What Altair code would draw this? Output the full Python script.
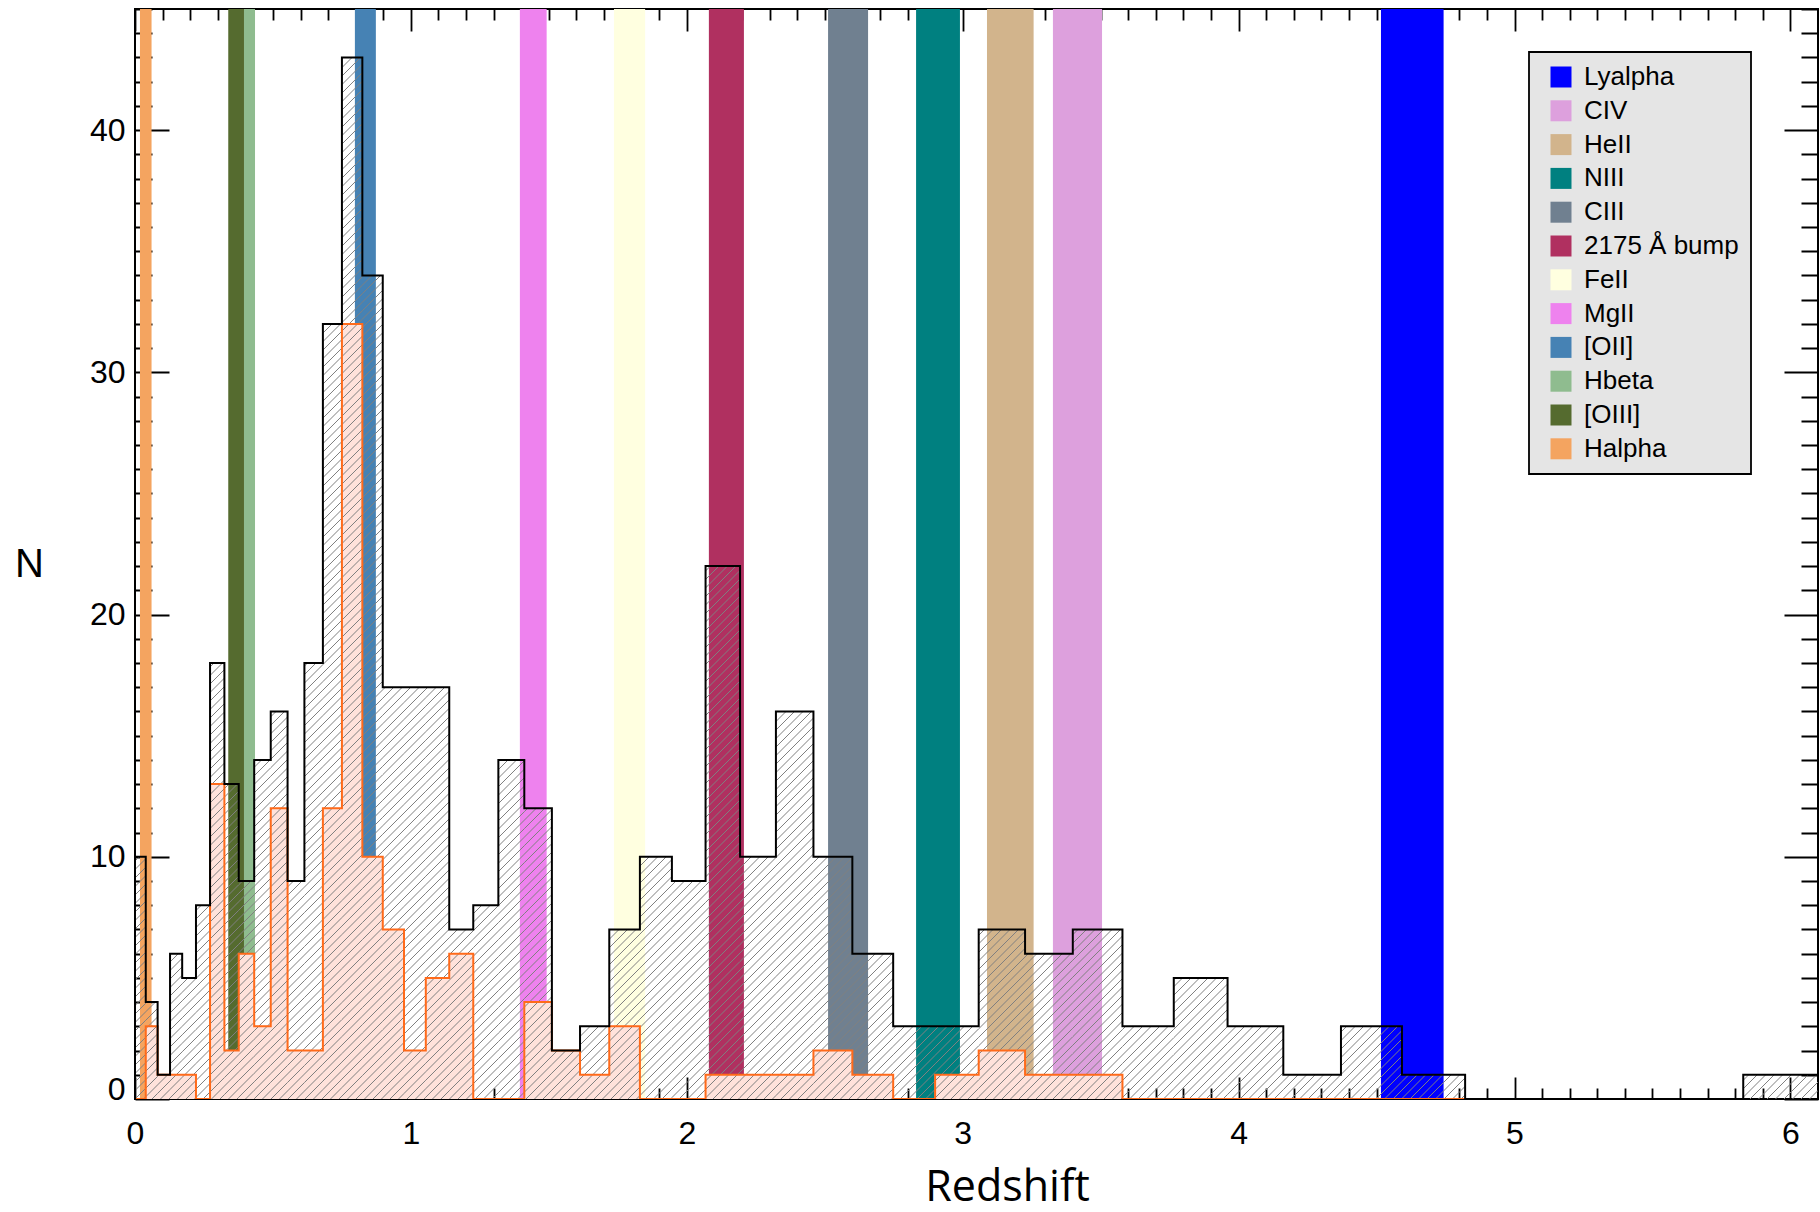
import altair as alt
import pandas as pd
import numpy as np

# ---------------- data ----------------
# redshift bin edges
edges = [0.0, 0.039, 0.082, 0.127, 0.171, 0.221, 0.272, 0.324, 0.376, 0.432,
         0.492, 0.553, 0.614, 0.681, 0.750, 0.824, 0.898, 0.975, 1.054, 1.139,
         1.226, 1.317, 1.411, 1.511, 1.613, 1.719, 1.830, 1.946, 2.068, 2.193,
         2.323, 2.459, 2.600, 2.748, 2.900, 3.058, 3.226, 3.399, 3.579, 3.765,
         3.960, 4.162, 4.371, 4.592, 4.821, 5.829, 6.108]
# full sample (black, hatched)
n_all = [10, 4, 1, 6, 5, 8, 18, 13, 9, 14,
         16, 9, 18, 32, 43, 34, 17, 17, 17, 7,
         8, 14, 12, 2, 3, 7, 10, 9, 22, 10,
         16, 10, 6, 3, 3, 7, 6, 7, 3, 5,
         3, 1, 3, 1, 0, 1]
# sub-sample (orange, pink filled)
n_sub = [0, 3, 1, 1, 1, 0, 13, 2, 6, 3,
         12, 2, 2, 12, 32, 10, 7, 2, 5, 6,
         0, 0, 4, 2, 1, 3, 0, 0, 1, 1,
         1, 2, 1, 0, 1, 2, 1, 1, 0, 0,
         0, 0, 0, 0, 0, 0]

line_names = ["Lyalpha", "CIV", "HeII", "NIII", "CIII", "2175 Å bump",
              "FeII", "MgII", "[OII]", "Hbeta", "[OIII]", "Halpha"]
line_lo = [4.516, 3.327, 3.088, 2.831, 2.512, 2.080, 1.736, 1.395, 0.797, 0.395, 0.338, 0.018]
line_hi = [4.743, 3.505, 3.257, 2.990, 2.657, 2.207, 1.849, 1.492, 0.873, 0.435, 0.395, 0.060]
line_colors = ["#0000FF", "#DDA0DD", "#D2B48C", "#008080", "#708090", "#B03060",
               "#FFFFE0", "#EE82EE", "#4682B4", "#8FBC8F", "#556B2F", "#F4A460"]

x_ticks = [round(i * 0.1, 1) for i in range(0, 61)]
y_ticks = list(range(0, 46))

# ---------------- layout ----------------
X_MAX = 6.1
Y_MAX = 45
W = 1683
H = 1090

xs = alt.Scale(domain=[0, X_MAX], nice=False, zero=False)
ys = alt.Scale(domain=[0, Y_MAX], nice=False, zero=False)

x_axis = alt.Axis(
    values=x_ticks, grid=True, ticks=False, tickSize=0, domain=False,
    gridColor="black", gridWidth=1.8, gridOpacity=1,
    gridDash={"condition": {"test": "abs(datum.value - round(datum.value)) < 0.001",
                            "value": [22, H - 44]},
              "value": [11, H - 22]},
    labelExpr="abs(datum.value - round(datum.value)) < 0.001 ? format(datum.value, 'd') : ''",
    labelOverlap=False, labelFlush=False, labelFontSize=32, labelPadding=19,
    labelColor="black", labelFont="Liberation Sans",
    title="Redshift", titleFont="Open Sans", titleFontSize=43, titleFontWeight="normal",
    titleColor="black", titleX=872, titleY=101, titleAlign="center",
    titleBaseline="alphabetic")

y_axis = alt.Axis(
    values=y_ticks, grid=True, ticks=False, tickSize=0, domain=False,
    gridColor="black", gridWidth=1.8, gridOpacity=1,
    gridDash={"condition": {"test": "datum.value % 10 === 0", "value": [34, W - 68]},
              "value": [17, W - 34]},
    labelExpr="datum.value % 10 === 0 ? datum.label : ''",
    labelOverlap=False, labelFlush=False, labelFontSize=32, labelPadding=10,
    labelColor="black", labelFont="Liberation Sans",
    labelBaseline={"condition": {"test": "datum.value === 0", "value": "alphabetic"},
                   "value": "middle"},
    title="N", titleFont="Liberation Sans", titleFontSize=40, titleFontWeight="normal",
    titleColor="black", titleAngle=0, titleX=-106, titleY=555, titleAlign="center",
    titleBaseline="middle")

# bands
bands_df = pd.DataFrame({"line": line_names, "lo": line_lo, "hi": line_hi,
                         "y0": [0] * len(line_names), "y1": [Y_MAX] * len(line_names)})
bands = alt.Chart(bands_df).mark_rect().encode(
    x=alt.X("lo:Q", scale=xs, axis=x_axis),
    x2="hi:Q",
    y=alt.Y("y0:Q", scale=ys, axis=y_axis),
    y2="y1:Q",
    color=alt.Color("line:N", scale=alt.Scale(domain=line_names, range=line_colors),
                    legend=alt.Legend(title=None, orient="none", legendX=1394, legendY=43,
                                      fillColor="#E5E5E5", strokeColor="black",
                                      padding=12, symbolType="square", symbolSize=441,
                                      symbolStrokeWidth=0, symbolOpacity=1, symbolOffset=7,
                                      labelFontSize=26, labelFont="Liberation Sans",
                                      labelColor="black", labelOffset=10, labelLimit=400,
                                      rowPadding=7.8)),
)

# pink fill of sub-sample
bins_df = pd.DataFrame({"lo": edges[:-1], "hi": edges[1:], "n_all": n_all, "n_sub": n_sub,
                        "zero": [0] * len(n_all)})
pink = alt.Chart(bins_df).transform_filter("datum.n_sub > 0").mark_rect(
    color="#FFE2DB", stroke="#FFE2DB", strokeWidth=1.2, clip=True).encode(
    x=alt.X("lo:Q", scale=xs, axis=x_axis), x2="hi:Q",
    y=alt.Y("zero:Q", scale=ys, axis=y_axis), y2="n_sub:Q")

# hatch lines, clipped to the full-sample histogram
px_x = W / X_MAX
px_y = H / Y_MAX
d = 8.5
seg = []
for lo, hi, n in zip(edges[:-1], edges[1:], n_all):
    if n <= 0:
        continue
    u0, u1 = lo * px_x, min(hi, X_MAX) * px_x
    v1 = n * px_y
    k0 = int(np.floor((u0 - v1) / d)) - 1
    k1 = int(np.ceil(u1 / d)) + 1
    for k in range(k0, k1 + 1):
        c = k * d
        ua = max(u0, c)
        ub = min(u1, c + v1)
        if ub - ua > 0.3:
            seg.append({"xa": ua / px_x, "ya": (ua - c) / px_y,
                        "xb": ub / px_x, "yb": (ub - c) / px_y})
hatch_df = pd.DataFrame(seg)
hatch = alt.Chart(hatch_df).mark_rule(color="#808080", strokeWidth=1, clip=True).encode(
    x=alt.X("xa:Q", scale=xs, axis=x_axis), x2="xb:Q",
    y=alt.Y("ya:Q", scale=ys, axis=y_axis), y2="yb:Q")


def step_df(counts, last_edge_index):
    e = edges[:last_edge_index + 1]
    c = counts[:last_edge_index]
    xv = [e[0]] + e[:-1] + [e[-1], e[-1]]
    yv = [0] + c + [c[-1], 0]
    return pd.DataFrame({"x": xv, "y": yv, "i": list(range(len(xv)))})


orange_df = step_df(n_sub, edges.index(4.821))
black_df = step_df(n_all, len(edges) - 1)

orange_line = alt.Chart(orange_df).mark_line(
    color="#FF6A1A", strokeWidth=2, interpolate="step-after", clip=True).encode(
    x=alt.X("x:Q", scale=xs, axis=x_axis), y=alt.Y("y:Q", scale=ys, axis=y_axis),
    order="i:Q")

black_line = alt.Chart(black_df).mark_line(
    color="black", strokeWidth=2, interpolate="step-after", clip=True).encode(
    x=alt.X("x:Q", scale=xs, axis=x_axis), y=alt.Y("y:Q", scale=ys, axis=y_axis),
    order="i:Q")

chart = alt.layer(bands, pink, hatch, orange_line, black_line).properties(
    width=W, height=H,
    padding={"left": 135, "top": 9, "right": 2, "bottom": 113},
    autosize=alt.AutoSizeParams(type="none"),
    background="white",
).configure_view(stroke="black", strokeWidth=2).configure_legend(strokeWidth=1.8)

chart.save("out.html", embed_options={"renderer": "svg", "actions": False})
